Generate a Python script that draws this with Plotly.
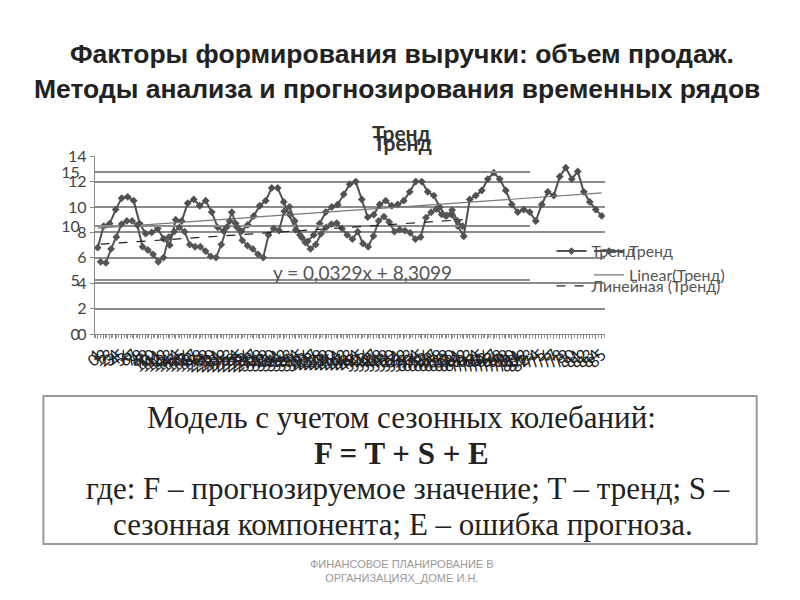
import plotly.graph_objects as go

# ряд A (ось 0-14)
trend_a = [6.8, 8.5, 8.7, 9.8, 10.7, 10.8, 10.5, 8.7, 7.9, 8.0,
           8.3, 7.5, 7.0, 9.0, 8.9, 10.3, 10.6, 10.1, 10.5, 9.6,
           8.4, 8.1, 8.9, 8.7, 8.1, 8.6, 9.3, 10.1, 10.5, 11.5,
           11.5, 10.4, 9.4, 8.2, 7.6, 7.3, 7.8, 8.7, 9.6, 10.0,
           10.2, 11.0, 11.8, 12.0, 10.6, 9.2, 9.4, 10.2, 10.5, 10.1,
           10.2, 10.5, 11.2, 12.0, 12.0, 11.2, 10.9, 10.0, 9.3, 9.4,
           8.5, 7.7, 10.6, 10.9, 11.3, 12.2, 12.7, 12.2, 11.3, 10.2,
           9.6, 9.8, 9.6, 8.9, 10.2, 11.2, 10.9, 12.4, 13.1, 12.2,
           12.8, 11.2, 10.4, 9.8, 9.3]

# ряд B (ось 0-15)
trend_b = [6.7, 6.6, 7.9, 9.0, 10.2, 10.5, 10.5, 10.1, 8.1, 7.8,
           7.4, 6.7, 7.1, 9.0, 9.5, 9.9, 9.5, 8.3, 8.1, 8.1,
           7.7, 7.2, 7.1, 8.3, 9.9, 11.3, 9.9, 8.7, 8.2, 7.9,
           7.4, 7.1, 9.2, 9.8, 9.6, 11.4, 11.8, 10.5, 9.2, 8.5,
           7.9, 8.3, 9.3, 9.9, 10.2, 10.3, 9.8, 9.2, 8.8, 9.5,
           8.4, 8.1, 9.1, 10.5, 10.9, 10.4, 9.5, 9.7, 9.6, 9.4,
           8.8, 9.0, 10.8, 11.3, 11.6, 11.1, 11.0, 11.5, 10.5, 10.0]

slope = 0.0329
intercept = 8.3099

ticks_a = [0, 2, 4, 6, 8, 10, 12, 14]
ticks_b = [0, 5, 10, 15]

W, H = 800, 600


# пиксели картинки -> доли листа (с поправкой на снимок)
def fx(x):
    return (x - 13.3) / 0.992 / W


def fy(y):
    return 1 - (y - 18.7) / 0.969 / H


x_a = list(range(1, len(trend_a) + 1))
x_b = list(range(1, len(trend_b) + 1))
lin_a_x = [x_a[0], x_a[-1]]
lin_b_x = [x_b[0], x_b[-1]]

fig = go.Figure()

# второй (смещенный) график
fig.add_trace(go.Scatter(
    x=x_b, y=trend_b, xaxis='x2', yaxis='y2', name='Тренд',
    mode='lines+markers', line=dict(color='#555', width=2),
    marker=dict(symbol='diamond', size=6, color='#555'),
    legend='legend2', legendgroup='b1'))
fig.add_trace(go.Scatter(
    x=lin_b_x, y=[slope * v + intercept for v in lin_b_x],
    xaxis='x2', yaxis='y2', name='Линейная (Тренд)', mode='lines',
    line=dict(color='#222', width=1.2, dash='dash'),
    legend='legend2', legendgroup='b2'))

# основной график
fig.add_trace(go.Scatter(
    x=x_a, y=trend_a, name='Тренд', mode='lines+markers',
    line=dict(color='#505050', width=2),
    marker=dict(symbol='diamond', size=6, color='#505050')))
fig.add_trace(go.Scatter(
    x=lin_a_x, y=[slope * v + intercept for v in lin_a_x],
    name='Linear(Тренд)', mode='lines',
    line=dict(color='#777', width=1.2)))

ydom = [fy(335), fy(157)]
axis_font = dict(family='Lato, Open Sans, sans-serif', size=16, color='#444')
tick_font = dict(family='Lato, sans-serif', size=16, color='#222')
leg_font = dict(family='Lato, sans-serif', size=16, color='#555')

fig.update_layout(
    width=W, height=H,
    margin=dict(l=0, r=0, t=0, b=0),
    paper_bgcolor='white', plot_bgcolor='rgba(0,0,0,0)',
    xaxis=dict(domain=[fx(89), fx(606)], anchor='y', range=[0.5, len(trend_a) + 0.5],
               tickmode='linear', tick0=1, dtick=1, tickangle=-45, tickfont=tick_font,
               showline=True, linecolor='#888', ticks='outside', ticklen=4,
               tickcolor='#888', showgrid=False, zeroline=False,
               minor=dict(ticks='outside', dtick=0.5, ticklen=3, tickcolor='#999')),
    yaxis=dict(domain=ydom, anchor='x', range=[0, 14], tickvals=ticks_a,
               tickfont=axis_font, showline=True, linecolor='#888',
               ticks='outside', ticklen=4, tickcolor='#888',
               gridcolor='#8c8c8c', gridwidth=1.5, zeroline=False),
    xaxis2=dict(domain=[fx(89), fx(530)], anchor='y2', range=[-0.13, 82.8],
                tickmode='linear', tick0=0, dtick=1, tickangle=-40, tickfont=tick_font,
                ticklabelstandoff=6,
                showline=True, linecolor='#888', ticks='outside', ticklen=3,
                tickcolor='#888', showgrid=False, zeroline=False),
    yaxis2=dict(domain=ydom, anchor='x2', range=[0, 16.5], tickvals=ticks_b,
                tickfont=axis_font, ticklabelstandoff=14, showline=False,
                gridcolor='#8c8c8c', gridwidth=1.5, zeroline=False),
    showlegend=True,
    legend=dict(x=fx(590), y=fy(235), xanchor='left', yanchor='top',
                bgcolor='rgba(0,0,0,0)', font=leg_font, traceorder='normal'),
    legend2=dict(x=fx(552), y=fy(235), xanchor='left', yanchor='top',
                 bgcolor='rgba(0,0,0,0)', font=leg_font,
                 traceorder='grouped', tracegroupgap=11),
)

title_font = dict(family='Liberation Sans, Arial, sans-serif', size=26.5, color='#222')
serif_font = dict(family='Liberation Serif, Times New Roman, serif', size=31, color='#222')

annotations = [
    dict(text='<b>Факторы формирования выручки: объем продаж.</b>', x=fx(400), y=fy(55),
         font=title_font),
    dict(text='<b>Методы анализа и прогнозирования временных рядов</b>', x=fx(395), y=fy(90),
         font=title_font),
    dict(text='<b>Тренд</b>', x=fx(400), y=fy(133),
         font=dict(family='Lato, sans-serif', size=21, color='#333')),
    dict(text='<b>Тренд</b>', x=fx(401), y=fy(143),
         font=dict(family='Lato, sans-serif', size=21, color='#333')),
    dict(text='y = 0,0329x + 8,3099', x=fx(360), y=fy(273),
         font=dict(family='Lato, sans-serif', size=19, color='#555')),
    dict(text='Модель с учетом сезонных колебаний:', x=fx(400), y=fy(418), font=serif_font),
    dict(text='<b>F = T + S + E</b>', x=fx(400), y=fy(454), font=serif_font),
    dict(text='где: F – прогнозируемое значение; T – тренд; S –', x=fx(407), y=fy(490),
         font=serif_font),
    dict(text='сезонная компонента; E – ошибка прогноза.', x=fx(401), y=fy(526),
         font=serif_font),
    dict(text='ФИНАНСОВОЕ ПЛАНИРОВАНИЕ В<br>ОРГАНИЗАЦИЯХ_ДОМЕ И.Н.', x=fx(400), y=fy(572),
         font=dict(family='Liberation Sans, Arial, sans-serif', size=11, color='#999')),
]
for a in annotations:
    a.update(xref='paper', yref='paper', xanchor='center', yanchor='middle', showarrow=False)
fig.update_layout(annotations=annotations)

fig.add_shape(type='rect', xref='paper', yref='paper',
              x0=fx(37), x1=fx(760), y0=fy(545), y1=fy(397),
              line=dict(color='#999', width=2))

fig.write_html("out.html")
